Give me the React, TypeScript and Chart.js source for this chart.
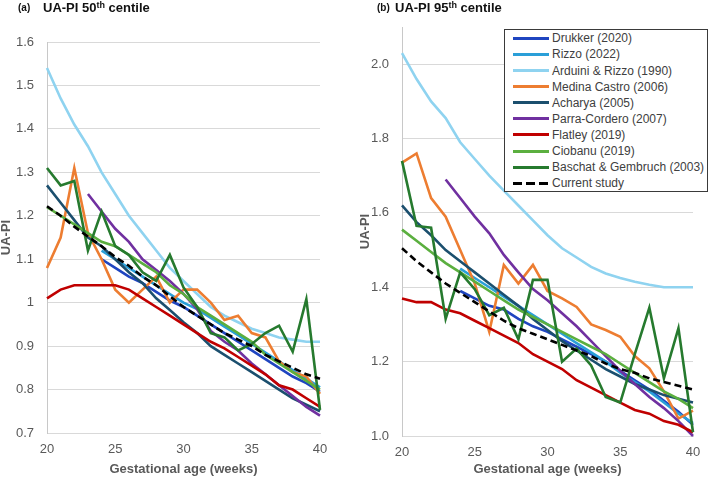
import React, { useEffect, useRef } from "react";
import { Chart, registerables } from "chart.js";

Chart.register(...registerables);

const FONT = "'Liberation Sans', Arial, sans-serif";

// ---- categories ----
const weeks = [20, 21, 22, 23, 24, 25, 26, 27, 28, 29, 30, 31, 32, 33, 34, 35, 36, 37, 38, 39, 40];

const seriesNames = [
  "Drukker (2020)",
  "Rizzo (2022)",
  "Arduini & Rizzo (1990)",
  "Medina Castro (2006)",
  "Acharya (2005)",
  "Parra-Cordero (2007)",
  "Flatley (2019)",
  "Ciobanu (2019)",
  "Baschat & Gembruch (2003)",
  "Current study",
];

const seriesColors = [
  "#1F45C0",
  "#2A9FD8",
  "#8FD3F0",
  "#ED7D31",
  "#1B4F6E",
  "#7030A0",
  "#C00000",
  "#5BAF3F",
  "#267A2E",
  "#000000",
];

// ---- (a) UA-PI 50th centile ----
const drukker50 = [null, null, null, null, 1.1, 1.08, 1.06, 1.045, 1.025, 1.005, 0.99, 0.97, 0.95, 0.93, 0.91, 0.89, 0.87, 0.85, 0.83, 0.815, 0.795];
const rizzo50 = [null, null, null, null, 1.12, 1.1, 1.08, 1.06, 1.04, 1.02, 1.0, 0.985, 0.965, 0.945, 0.925, 0.905, 0.885, 0.865, 0.845, 0.825, 0.805];
const arduini50 = [1.54, 1.47, 1.41, 1.36, 1.3, 1.25, 1.2, 1.16, 1.12, 1.08, 1.05, 1.02, 0.99, 0.97, 0.955, 0.94, 0.93, 0.92, 0.915, 0.91, 0.91];
const medina50 = [1.08, 1.15, 1.31, 1.16, 1.1, 1.03, 1.0, 1.03, 1.06, 1.0, 1.03, 1.03, 1.0, 0.96, 0.97, 0.93, 0.92, 0.865, 0.84, 0.83, 0.79];
const acharya50 = [1.27, 1.23, 1.19, 1.15, 1.13, 1.1, 1.07, 1.045, 1.01, 0.983, 0.955, 0.93, 0.9, 0.88, 0.86, 0.84, 0.82, 0.8, 0.78, 0.765, 0.75];
const parra50 = [null, null, null, 1.25, 1.21, 1.17, 1.14, 1.1, 1.075, 1.05, 1.02, 0.985, 0.935, 0.91, 0.89, 0.86, 0.835, 0.81, 0.785, 0.76, 0.74];
const flatley50 = [1.01, 1.03, 1.04, 1.04, 1.04, 1.04, 1.03, 1.01, 0.99, 0.97, 0.95, 0.93, 0.91, 0.895, 0.875, 0.855, 0.835, 0.81, 0.8, 0.78, 0.76];
const ciobanu50 = [1.22, 1.2, 1.18, 1.16, 1.14, 1.13, 1.11, 1.09, 1.07, 1.04, 1.02, 0.99, 0.97, 0.95, 0.93, 0.91, 0.88, 0.86, 0.84, 0.82, 0.8];
const baschat50 = [1.31, 1.27, 1.28, 1.12, 1.21, 1.13, 1.11, 1.07, 1.05, 1.11, 1.035, 0.99, 0.93, 0.92, 0.89, 0.905, 0.93, 0.947, 0.887, 1.008, 0.753];
const current50 = [1.222, 1.2, 1.175, 1.152, 1.13, 1.105, 1.085, 1.06, 1.04, 1.015, 0.99, 0.97, 0.95, 0.93, 0.915, 0.9, 0.88, 0.865, 0.85, 0.835, 0.825];

// ---- (b) UA-PI 95th centile ----
const drukker95 = [null, null, null, null, 1.39, 1.37, 1.35, 1.34, 1.315, 1.295, 1.28, 1.26, 1.24, 1.22, 1.2, 1.175, 1.15, 1.125, 1.095, 1.065, 1.03];
const rizzo95 = [null, null, null, null, 1.45, 1.425, 1.4, 1.375, 1.35, 1.325, 1.3, 1.275, 1.25, 1.225, 1.2, 1.17, 1.145, 1.12, 1.09, 1.06, 1.035];
const arduini95 = [2.03, 1.96, 1.9, 1.855, 1.79, 1.745, 1.7, 1.66, 1.62, 1.58, 1.54, 1.505, 1.48, 1.455, 1.437, 1.425, 1.415, 1.407, 1.4, 1.4, 1.4];
const medina95 = [1.735, 1.76, 1.64, 1.59, 1.5, 1.41, 1.28, 1.46, 1.41, 1.46, 1.39, 1.37, 1.347, 1.3, 1.285, 1.267, 1.215, 1.182, 1.12, 1.047, 1.068];
const acharya95 = [1.62, 1.575, 1.54, 1.5, 1.47, 1.44, 1.41, 1.38, 1.35, 1.315, 1.285, 1.255, 1.23, 1.205, 1.18, 1.16, 1.14, 1.125, 1.11, 1.1, 1.09];
const parra95 = [null, null, null, 1.69, 1.64, 1.59, 1.545, 1.487, 1.44, 1.395, 1.365, 1.33, 1.295, 1.255, 1.215, 1.175, 1.14, 1.105, 1.075, 1.04, 1.0];
const flatley95 = [1.37, 1.36, 1.36, 1.34, 1.33, 1.31, 1.29, 1.27, 1.25, 1.22, 1.2, 1.18, 1.15, 1.13, 1.11, 1.09, 1.07, 1.06, 1.04, 1.03, 1.01];
const ciobanu95 = [1.555, 1.525, 1.495, 1.465, 1.44, 1.415, 1.39, 1.365, 1.34, 1.32, 1.3, 1.28, 1.26, 1.24, 1.22, 1.195, 1.17, 1.145, 1.12, 1.1, 1.075];
const baschat95 = [1.74, 1.565, 1.56, 1.315, 1.44, 1.395, 1.325, 1.345, 1.26, 1.42, 1.42, 1.2, 1.235, 1.19, 1.105, 1.09, 1.22, 1.345, 1.155, 1.29, 1.01];
const current95 = [1.505, 1.47, 1.44, 1.41, 1.385, 1.36, 1.335, 1.31, 1.29, 1.275, 1.26, 1.245, 1.23, 1.215, 1.195, 1.18, 1.17, 1.155, 1.145, 1.135, 1.125];

// ---- tick labels ----
const xTicks = [20, 25, 30, 35, 40];
const leftTicks = [0.7, 0.8, 0.9, 1.0, 1.1, 1.2, 1.3, 1.4, 1.5, 1.6];
const rightTicks = [1.0, 1.2, 1.4, 1.6, 1.8, 2.0];

const series50 = [drukker50, rizzo50, arduini50, medina50, acharya50, parra50, flatley50, ciobanu50, baschat50, current50];
const series95 = [drukker95, rizzo95, arduini95, medina95, acharya95, parra95, flatley95, ciobanu95, baschat95, current95];

function makeDatasets(list: (number | null)[][]) {
  const n = list.length;
  return list.map((vals, i) => ({
    label: seriesNames[i],
    data: weeks
      .map((w, j) => (vals[j] == null ? null : { x: w, y: vals[j] as number }))
      .filter((p) => p !== null),
    borderColor: seriesColors[i],
    backgroundColor: seriesColors[i],
    borderWidth: 2.6,
    borderDash: i === n - 1 ? [7, 4] : [],
    pointRadius: 0,
    pointHoverRadius: 0,
    tension: 0,
    fill: false,
    clip: false as any,
    order: n - i,
  }));
}

type PanelProps = {
  left: number;
  width: number;
  height: number;
  padRight: number;
  padTop: number;
  xAxisHeight: number;
  yMin: number;
  yMax: number;
  yTicks: number[];
  fmt: (v: number) => string;
  yTitlePad: number;
  seriesList: (number | null)[][];
};

function Panel(p: PanelProps) {
  const ref = useRef<HTMLCanvasElement | null>(null);
  useEffect(() => {
    if (!ref.current) return;
    const chart = new Chart(ref.current, {
      type: "line",
      data: { datasets: makeDatasets(p.seriesList) as any },
      options: {
        responsive: false,
        animation: false,
        events: [],
        layout: { padding: { left: 0, right: p.padRight, top: p.padTop, bottom: 0 } },
        plugins: { legend: { display: false }, tooltip: { enabled: false } },
        scales: {
          x: {
            type: "linear",
            min: 20,
            max: 40,
            afterBuildTicks: (s: any) => {
              s.ticks = xTicks.map((v) => ({ value: v }));
            },
            afterFit: (s: any) => {
              s.height = p.xAxisHeight;
              s.paddingLeft = 0;
              s.paddingRight = 0;
            },
            grid: { display: false, drawTicks: false },
            border: { display: true, color: "#d9d9d9", width: 1 },
            ticks: {
              padding: 9,
              color: "#595959",
              font: { family: FONT, size: 13 },
              maxRotation: 0,
              autoSkip: false,
              callback: (v: any) => String(v),
            },
            title: {
              display: true,
              text: "Gestational age (weeks)",
              color: "#595959",
              font: { family: FONT, size: 13, weight: "bold", lineHeight: 1 },
              padding: { top: 0, bottom: 1.5 },
            },
          },
          y: {
            type: "linear",
            min: p.yMin,
            max: p.yMax,
            afterBuildTicks: (s: any) => {
              s.ticks = p.yTicks.map((v) => ({ value: v }));
            },
            afterFit: (s: any) => {
              s.width = 47;
              s.paddingTop = 0;
              s.paddingBottom = 0;
            },
            grid: { color: "#d9d9d9", lineWidth: 1, drawTicks: false },
            border: { display: true, color: "#c8c8c8", width: 1 },
            ticks: {
              padding: 13,
              color: "#595959",
              font: { family: FONT, size: 13 },
              callback: (v: any) => p.fmt(Number(v)),
            },
            title: {
              display: true,
              text: "UA-PI",
              color: "#595959",
              font: { family: FONT, size: 13, weight: "bold", lineHeight: 1 },
              padding: { top: p.yTitlePad, bottom: 0 },
            },
          },
        },
      } as any,
    });
    return () => chart.destroy();
  }, []);
  return (
    <canvas
      ref={ref}
      width={p.width}
      height={p.height}
      style={{ position: "absolute", left: p.left, top: 0, width: p.width, height: p.height }}
    />
  );
}

function PanelTitle({ left, tag, tagLeft, centile }: { left: number; tag: string; tagLeft: number; centile: string }) {
  return (
    <>
      <div
        style={{
          position: "absolute",
          left: tagLeft,
          top: 3.2,
          fontFamily: FONT,
          fontWeight: "bold",
          fontSize: 10,
          lineHeight: "10px",
          color: "#111",
          whiteSpace: "nowrap",
        }}
      >
        {tag}
      </div>
      <div
        style={{
          position: "absolute",
          left,
          top: 1,
          fontFamily: FONT,
          fontWeight: "bold",
          fontSize: 13,
          lineHeight: "13px",
          color: "#111",
          whiteSpace: "nowrap",
        }}
      >
        UA-PI {centile}
        <span style={{ fontSize: 9, position: "relative", top: -4 }}>th</span> centile
      </div>
    </>
  );
}

function Legend() {
  return (
    <div
      style={{
        position: "absolute",
        left: 504,
        top: 29,
        width: 204,
        height: 163,
        boxSizing: "border-box",
        border: "1px solid #3a3a3a",
        background: "#fff",
      }}
    >
      {seriesNames.map((name, i) => {
        const dashed = i === seriesNames.length - 1;
        return (
          <div key={name} style={{ position: "absolute", left: 0, top: 0.3 + i * 16.1, height: 16, width: 200 }}>
            <div
              style={{
                position: "absolute",
                left: 8,
                top: 6.5,
                width: 36,
                height: 3,
                background: dashed
                  ? "repeating-linear-gradient(to right, #000 0px, #000 9px, transparent 9px, transparent 13px)"
                  : seriesColors[i],
              }}
            />
            <div
              style={{
                position: "absolute",
                left: 47,
                top: 0,
                fontFamily: FONT,
                fontSize: 12,
                lineHeight: "16px",
                color: "#404040",
                whiteSpace: "nowrap",
              }}
            >
              {name}
            </div>
          </div>
        );
      })}
    </div>
  );
}

export default function App() {
  return (
    <div style={{ position: "fixed", left: 0, top: 0, width: 709, height: 477, background: "#fff", overflow: "hidden" }}>
      <Panel
        left={0}
        width={345}
        height={477}
        padRight={25}
        padTop={42}
        xAxisHeight={44}
        yMin={0.7}
        yMax={1.6}
        yTicks={leftTicks}
        fmt={(v) => String(parseFloat(v.toFixed(1)))}
        yTitlePad={0}
        seriesList={series50}
      />
      <Panel
        left={355}
        width={354}
        height={477}
        padRight={16}
        padTop={27}
        xAxisHeight={41}
        yMin={1.0}
        yMax={2.1}
        yTicks={rightTicks}
        fmt={(v) => v.toFixed(1)}
        yTitlePad={4}
        seriesList={series95}
      />
      <PanelTitle left={43} tag="(a)" tagLeft={18} centile="50" />
      <PanelTitle left={395} tag="(b)" tagLeft={377} centile="95" />
      <Legend />
    </div>
  );
}
